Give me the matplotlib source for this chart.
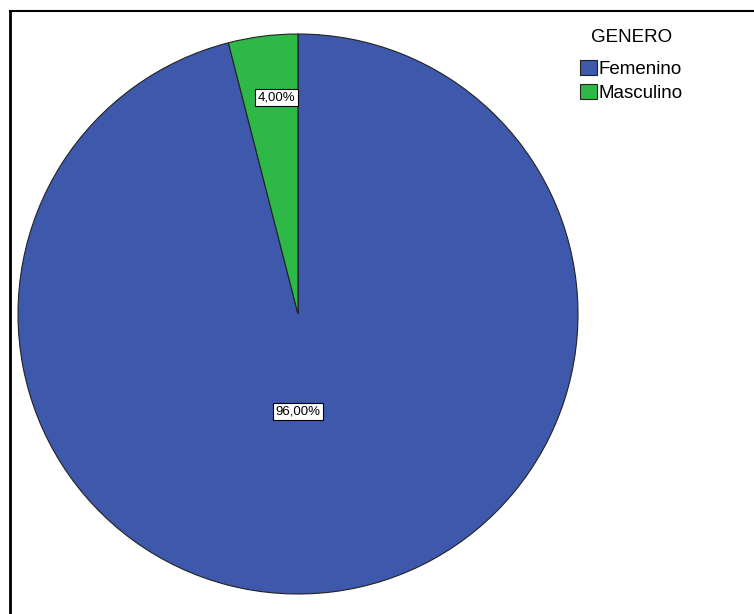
import matplotlib
matplotlib.use("Agg")
import matplotlib.pyplot as plt
from matplotlib.lines import Line2D
from matplotlib.patches import Patch
import numpy as np

plt.rcParams['font.family'] = ['Liberation Sans', 'DejaVu Sans']

categories = ["Femenino", "Masculino"]
values = [96.0, 4.0]
colors = ["#3E58AC", "#2EB848"]
legend_title = "GENERO"

W, H = 754, 614
fig = plt.figure(figsize=(W / 100, H / 100), dpi=100)

# frame lines (top and left only visible)
fig.add_artist(Line2D([10 / W, 1], [1 - 11 / H, 1 - 11 / H], color="black", lw=1.5))
fig.add_artist(Line2D([10 / W, 10 / W], [0, 1 - 11 / H], color="black", lw=2))

cx, cy, r = 298, 314, 280
ax = fig.add_axes([(cx - r) / W, (H - cy - r) / H, 2 * r / W, 2 * r / H])
wedges, _ = ax.pie(values, colors=colors, startangle=90, counterclock=False,
                   radius=1, wedgeprops=dict(edgecolor="#222222", linewidth=0.8))
ax.set_xlim(-1, 1)
ax.set_ylim(-1, 1)
ax.set_aspect("equal")
ax.axis("off")

# percentage labels
dists = [0.35, 0.78]
for w, v, d in zip(wedges, values, dists):
    ang = np.deg2rad((w.theta1 + w.theta2) / 2)
    x, y = d * np.cos(ang), d * np.sin(ang)
    if v > 50:
        x = 0
    else:
        x = x * 0.8
    ax.text(x, y, ("%.2f%%" % v).replace(".", ","), ha="center", va="center",
            fontsize=9.5,
            bbox=dict(boxstyle="square,pad=0.2", facecolor="white",
                      edgecolor="black", linewidth=0.8))

handles = [Patch(facecolor=c, edgecolor="#222222", linewidth=0.8) for c in colors]
leg = fig.legend(handles, categories, title=legend_title, loc="upper left",
                 bbox_to_anchor=(580 / W, 1 - 29 / H), frameon=False,
                 fontsize=13.5, title_fontsize=13.5, handlelength=0.9,
                 handleheight=0.9, handletextpad=0.1, labelspacing=0.3,
                 borderaxespad=0, borderpad=0)
leg._legend_box.sep = 10

fig.savefig("out.png", dpi=100)
